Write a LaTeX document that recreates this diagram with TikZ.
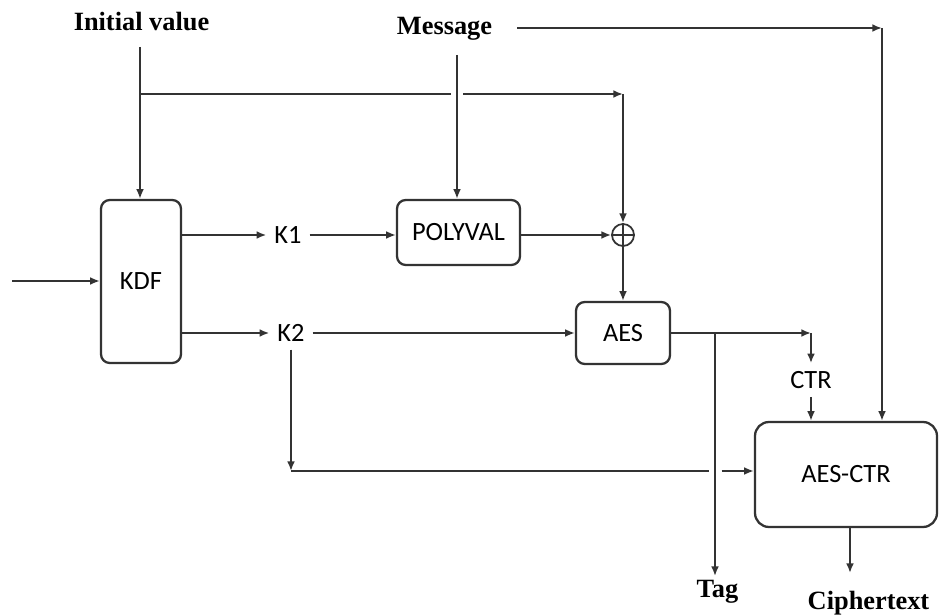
\documentclass[tikz,border=0pt]{standalone}
\usepackage{fontspec}
\setmainfont{Liberation Serif}
\newfontfamily\boxfont{Carlito}
\usetikzlibrary{arrows.meta,calc}

\begin{document}
\begin{tikzpicture}[>={Latex[length=5.5pt,width=4.5pt]},line width=1.3pt,draw=black!80,
  blk/.style={draw,rounded corners=5pt,inner sep=0pt,font=\boxfont\fontsize{15}{18}\selectfont},
  lbl/.style={inner sep=4pt,font=\boxfont\fontsize{15}{18}\selectfont},
  io/.style={inner sep=2pt,anchor=base,font=\bfseries\fontsize{15}{18}\selectfont}]
  \useasboundingbox (0,0) rectangle (18.78,12.32);
  \node[blk,minimum width=1.6cm,minimum height=3.26cm] (kdf) at (2.82,6.69) {KDF};
  \node[blk,minimum width=2.46cm,minimum height=1.3cm] (poly) at (9.17,7.67) {POLYVAL};
  \node[draw,circle,minimum size=0.44cm,inner sep=0pt,line width=1pt] (xor) at (12.46,7.62) {};
  \draw[line width=1pt] (xor.north) -- (xor.south) (xor.west) -- (xor.east);
  \node[blk,minimum width=1.88cm,minimum height=1.24cm] (aes) at (12.46,5.66) {AES};
  \node[blk,rounded corners=8pt,minimum width=3.64cm,minimum height=2.1cm] (aesctr) at (16.92,2.83) {AES-CTR};
  \node[lbl] (k1) at (5.76,7.62) {K1};
  \node[lbl] (k2) at (5.82,5.66) {K2};
  \node[lbl] (ctr) at (16.22,4.72) {CTR};
  \node[io] (iv) at (2.83,11.70) {Initial value};
  \node[io] (msg) at (8.89,11.62) {Message};
  \node[io] (tag) at (14.35,0.36) {Tag};
  \node[io] (ct) at (17.37,0.12) {Ciphertext};

  \coordinate (in) at (0.24,6.70);
  \coordinate (ivtop) at (2.80,11.38);
  \coordinate (ivb) at (2.80,10.44);
  \coordinate (ivc) at (12.46,10.44);
  \coordinate (msgtop) at (9.14,11.22);
  \coordinate (msgr) at (10.34,11.76);
  \coordinate (msgc) at (17.64,11.76);
  \coordinate (k2c) at (5.82,2.90);
  \coordinate (aesc) at (16.22,5.66);
  \coordinate (tagb) at (14.30,5.66);
  \coordinate (cte) at (17.0,0.86);

  \draw[->] (in) -- (in -| kdf.west);
  \draw[->] (ivtop) -- (ivtop |- kdf.north);
  \draw (ivb) -- ($(msgtop |- ivb)+(-0.12,0)$);
  \draw[->] ($(msgtop |- ivb)+(0.12,0)$) -- (ivc);
  \draw[->] (ivc) -- (xor.north);
  \draw[->] (msgtop) -- (msgtop |- poly.north);
  \draw[->] (msgr) -- (msgc);
  \draw[->] (msgc) -- (msgc |- aesctr.north);

  \draw[->] (kdf.east |- k1) -- (k1);
  \draw[->] (k1) -- (k1 -| poly.west);
  \draw[->] (poly.east |- xor) -- (xor.west);
  \draw[->] (xor.south) -- (aes.north);
  \draw[->] (kdf.east |- k2) -- (k2);
  \draw[->] (k2) -- (k2 -| aes.west);
  \draw[->] (k2.south) -- (k2c);
  \draw (k2c) -- ($(tagb |- k2c)+(-0.13,0)$);
  \draw[->] ($(tagb |- k2c)+(0.13,0)$) -- (k2c -| aesctr.west);

  \draw[->] (aes.east) -- (aesc);
  \draw[->] (aesc) -- (ctr.north);
  \draw[->] (ctr.south) -- (ctr.south |- aesctr.north);
  \draw[->] (tagb) -- (tagb |- tag.north);
  \draw[->] (aesctr.south -| cte) -- (cte);
\end{tikzpicture}
\end{document}
